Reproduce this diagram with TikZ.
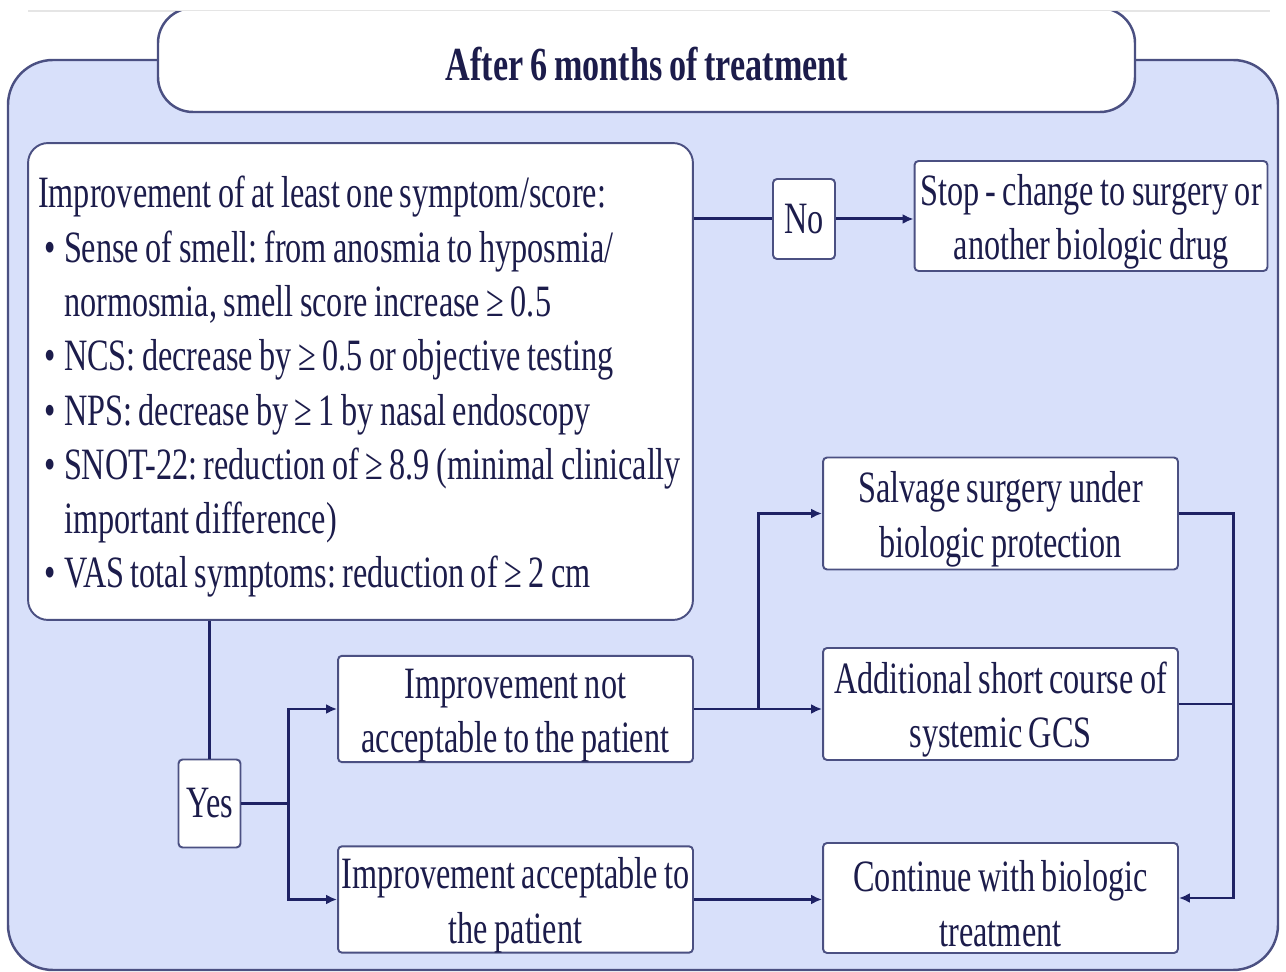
\documentclass[tikz,border=0pt]{standalone}
\usepackage{fontspec}
\setmainfont{Liberation Serif}[FakeStretch=0.72, WordSpace=0.8]
\frenchspacing
\usetikzlibrary{arrows.meta,positioning}
\definecolor{panelblue}{RGB}{216,224,250}
\definecolor{edgeblue}{RGB}{75,80,130}
\definecolor{linenavy}{RGB}{30,34,100}
\definecolor{textnavy}{RGB}{28,28,75}
\newcommand{\critbullet}{\makebox[0.52cm][l]{\hspace{0.12cm}\textbullet}}
\newcommand{\critindent}{\hspace*{0.52cm}}
\newcommand{\lift}{\rule{0pt}{0.95em}}

\begin{document}
\begin{tikzpicture}[x=0.02cm, y=-0.02cm, bigfont/.style={font=\fontsize{25.5pt}{30.9pt}\selectfont}, box/.style={rectangle, draw=edgeblue, line width=1.1pt, fill=white, rounded corners=0.08cm, align=center, text=textnavy, inner sep=0pt, bigfont}, outbox/.style={box, minimum width=7.1cm, minimum height=2.06cm}, choice/.style={box, minimum width=1.24cm, minimum height=1.6cm}, conn/.style={draw=linenavy, line width=1.7pt}, arrow/.style={-{Latex[length=2.2mm,width=2mm]}}]
\useasboundingbox (0,0) rectangle (1286,972);
\draw[black!10, line width=0.8pt] (28,11) -- (1270,11);
\draw[draw=edgeblue, fill=panelblue, line width=1.4pt, rounded corners=0.9cm] (8,60) rectangle (1278,970);
\begin{scope}
\clip (0,12) rectangle (1286,972);
\draw[draw=edgeblue, fill=white, line width=1.4pt, rounded corners=0.7cm] (158,8) rectangle (1135,112);
\end{scope}
\node[text=textnavy, font={\fontsize{27pt}{32pt}\selectfont\bfseries}] (title) at (647,64) {After 6 months of treatment};

\node[box, rounded corners=0.4cm, align=flush left, text width=12.9cm, minimum width=13.3cm, minimum height=9.54cm] (crit) at (360.5,381.5) {\lift Improvement of at least one symptom/score:\\ \critbullet Sense of smell: from anosmia to hyposmia/\\ \critindent normosmia, smell score increase ≥ 0.5\\ \critbullet NCS: decrease by ≥ 0.5 or objective testing\\ \critbullet NPS: decrease by ≥ 1 by nasal endoscopy\\ \critbullet SNOT-22: reduction of ≥ 8.9 (minimal clinically\\ \critindent important difference)\\ \critbullet VAS total symptoms: reduction of ≥ 2 cm};
\node[choice] (no) at (804,219) {No};
\node[box, minimum width=7.06cm, minimum height=2.2cm] (stop) at (1091,216) {\lift Stop - change to surgery or\\ another biologic drug};
\node[choice, minimum height=1.76cm] (yes) at (209.5,803.5) {Yes};
\node[outbox] (notacc) at (515.5,709) {\lift Improvement not\\ acceptable to the patient};
\node[outbox] (acc) at (515.5,899.5) {\lift Improvement acceptable to\\ the patient};
\node[outbox, minimum height=2.24cm] (salv) at (1000.5,513.5) {\lift Salvage surgery under\\ biologic protection};
\node[outbox, minimum height=2.24cm] (addl) at (1000.5,704) {\lift Additional short course of\\ systemic GCS};
\node[outbox, minimum height=2.2cm] (cont) at (1000.5,898) {\lift Continue with biologic\\ treatment};

\draw[conn] (no.west -| crit.east) -- (no.west);
\draw[conn, arrow] (no.east) -- (stop.west |- no.east);
\draw[conn] (yes.north |- crit.south) -- (yes.north);
\draw[conn] (yes.east) -- ++(47,0) coordinate (ysplit);
\draw[conn, arrow] (ysplit) |- (notacc.west);
\draw[conn, arrow] (ysplit) |- (acc.west);
\draw[conn, arrow] (notacc.east) -- (notacc.east -| addl.west);
\draw[conn, arrow] (notacc.east) -- ++(65,0) |- (salv.west);
\draw[conn, arrow] (acc.east) -- (acc.east -| cont.west);
\draw[conn, arrow] (salv.east) -- ++(55,0) coordinate (rsplit) |- (cont.east);
\draw[conn] (addl.east) -- (addl.east -| rsplit);
\end{tikzpicture}
\end{document}
